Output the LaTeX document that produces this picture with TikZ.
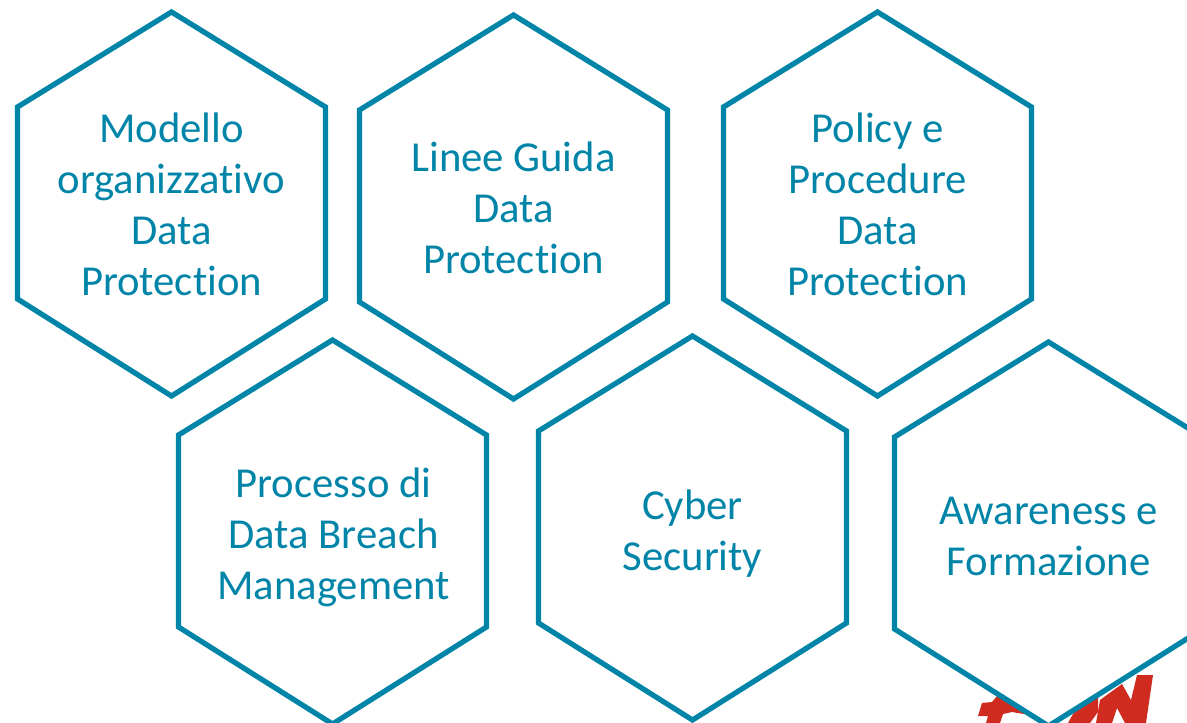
\documentclass[tikz,border=0pt]{standalone}
\usepackage{fontspec}
\setmainfont{Carlito}[RawFeature={-liga}]
\usepackage{tikz}
\usetikzlibrary{positioning}
\definecolor{hexblue}{HTML}{0085A8}
\definecolor{logored}{HTML}{CF2C1F}
\tikzset{
  hexlabel/.style={align=center, text=hexblue, font=\fontsize{24.3}{29}\selectfont, inner sep=0pt},
  hexline/.style={draw=hexblue, line width=0.105cm, fill=white, line join=miter}
}
\begin{document}
\begin{tikzpicture}[x=0.02cm, y=-0.02cm]
  \useasboundingbox (0,0) rectangle (1187,723);
  \clip (0,0) rectangle (1187,723);

  % Logo behind the last hexagon
  \fill[logored] (978,716) -- (982,703) -- (992,702) -- (997,696) -- (1020,700) -- (1030,715)
    -- (1012,712) -- (1003,714) -- (1000,723) -- (986,723) -- (988,716) -- cycle;
  \fill[logored] (1068,723) -- (1078,705) -- (1098,695) -- (1098,712) -- (1090,723) -- cycle;
  \fill[logored] (1153,675) -- (1137,675) -- (1131,700) -- (1122,684) -- (1100,700)
    -- (1096,723) -- (1112,723) -- (1117,708) -- (1125,723) -- (1146,723) -- cycle;

  % Hexagons
  \foreach \cx/\cy in {171.5/204, 513.5/207, 877.5/204, 332.5/532, 692.5/528, 1048.5/534}{
    \draw[hexline] (\cx,\cy-192) -- (\cx+154,\cy-97) -- (\cx+154,\cy+95)
      -- (\cx,\cy+192) -- (\cx-154,\cy+95) -- (\cx-154,\cy-97) -- cycle;
  }

  % Labels
  \node[hexlabel] (modello) at (171.5,204) {Modello\\organizzativo\\Data\\Protection};
  \node[hexlabel] (linee) at (513.5,208) {Linee Guida\\Data\\Protection};
  \node[hexlabel] (policy) at (877.5,204) {Policy e\\Procedure\\Data\\Protection};
  \node[hexlabel] (breach) at (333.5,537) {Processo di\\Data Breach\\Management};
  \node[hexlabel] (cyber) at (692.5,534) {Cyber\\Security};
  \node[hexlabel] (awareness) at (1048.5,536) {Awareness e\\Formazione};
\end{tikzpicture}
\end{document}
